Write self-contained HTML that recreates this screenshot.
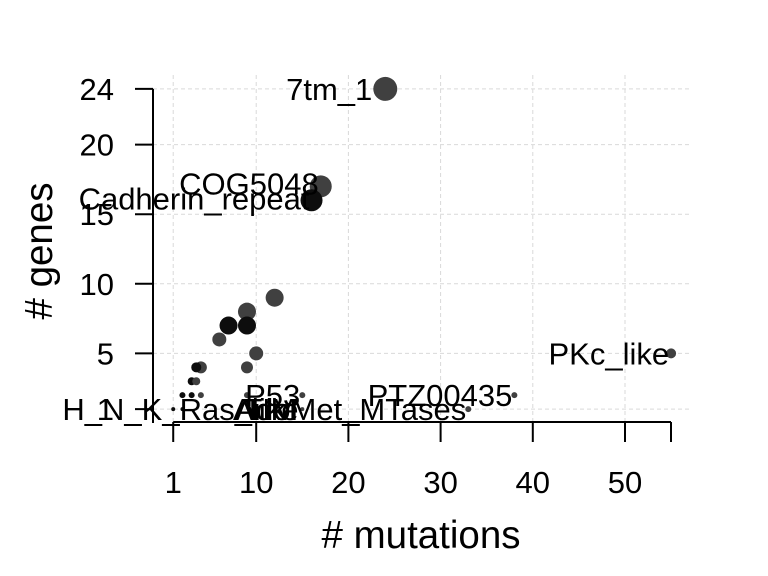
<!DOCTYPE html>
<html><head><meta charset="utf-8"><style>
html,body{margin:0;padding:0;background:#fff;}
svg{display:block;font-family:"Liberation Sans",Arial,sans-serif;}
</style></head><body>
<svg id="chart" width="768" height="576" viewBox="0 0 768 576">
<g id="grid"></g>
<g id="axes"></g>
<g id="points"></g>
<g id="labels"></g>
<text x="421" y="548" font-size="38.5" text-anchor="middle"># mutations</text>
<text transform="translate(52,251) rotate(-90)" font-size="38.5" text-anchor="middle"># genes</text>
</svg>
<script>
const xTicks = [1, 10, 20, 30, 40, 50];
const yTicks = [1, 5, 10, 15, 20, 24];
const ptX = [24, 17, 16, 55, 38, 12, 9, 7, 9, 6, 10, 9, 4, 3.5, 3, 3.5, 2, 3, 4, 9, 15, 1, 2, 33, 10, 15];
const ptY = [24, 17, 16, 5, 2, 9, 8, 7, 7, 6, 5, 4, 4, 4, 3, 3, 2, 2, 2, 2, 2, 1, 1, 1, 1, 1];
const ptR = [12, 11, 11, 5, 3, 9, 9, 9, 9, 7, 7, 6, 6, 5, 4, 4, 3, 3, 3, 3, 3, 2, 2, 3, 2, 2];
const ptDark = [0, 0, 1, 0, 0, 0, 0, 1, 1, 0, 0, 0, 0, 1, 1, 0, 1, 1, 0, 0, 0, 1, 1, 0, 0, 0];
const labText = ["7tm_1", "COG5048", "Cadherin_repeat", "PKc_like", "PTZ00435", "P53", "H_N_K_Ras_like", "AdoMet_MTases", "Ank", "TIM"];
const labX = [24, 17, 16, 55, 38, 15, 14.8, 33, 13.5, 14.6];
const labY = [24, 17, 16, 5, 2, 2, 1, 1, 1, 1];
const labDy = [0, -3, -2, 0, 0, 0, 0, 0, 0, 0];

function sx(v){ return 164 + 9.22 * v; }
function sy(v){ return 423 - 13.92 * v; }
const NS = "http://www.w3.org/2000/svg";
function mk(tag, attrs, parent){
  const e = document.createElementNS(NS, tag);
  for (const k in attrs) e.setAttribute(k, attrs[k]);
  parent.appendChild(e);
  return e;
}
const grid = document.getElementById('grid');
const axes = document.getElementById('axes');
const pts = document.getElementById('points');
const labs = document.getElementById('labels');

xTicks.forEach(t => {
  const g = mk('line', {x1: sx(t), x2: sx(t), y1: 75, y2: 422, stroke: '#d9d9d9', 'stroke-width': 1, 'stroke-dasharray': '4,3'}, grid);
  
  
  const tk = mk('line', {x1: sx(t), x2: sx(t), y1: 422, y2: 442, stroke: '#000', 'stroke-width': 2}, axes);
  
  
  const lb = mk('text', {x: sx(t), y: 493, 'font-size': 31, 'text-anchor': 'middle'}, axes);
  lb.textContent = t;
  
  
});
yTicks.forEach(t => {
  const g = mk('line', {x1: 153, x2: 690, y1: sy(t), y2: sy(t), stroke: '#d9d9d9', 'stroke-width': 1, 'stroke-dasharray': '4,3'}, grid);
  
  
  const tk = mk('line', {x1: 135, x2: 153, y1: sy(t), y2: sy(t), stroke: '#000', 'stroke-width': 2}, axes);
  
  
  const lb = mk('text', {x: 114, y: sy(t) + 11, 'font-size': 31, 'text-anchor': 'end'}, axes);
  lb.textContent = t;
  
  
});
const ya = mk('line', {x1: 153, x2: 153, y1: sy(24), y2: 423, stroke: '#000', 'stroke-width': 2}, axes);


const xa = mk('line', {x1: sx(1), x2: 671, y1: 422, y2: 422, stroke: '#000', 'stroke-width': 2}, axes);


const xe = mk('line', {x1: 671, x2: 671, y1: 422, y2: 442, stroke: '#000', 'stroke-width': 2}, axes);



ptX.forEach((v, i) => {
  const c = mk('circle', {cx: sx(v), cy: sy(ptY[i]), r: ptR[i], fill: ptDark[i] ? '#0d0d0d' : '#404040'}, pts);
  
  
});
labText.forEach((s, i) => {
  const off = i === 0 ? 13 : 2;
  const t = mk('text', {x: sx(labX[i]) - off, y: sy(labY[i]) + 11 + labDy[i], 'font-size': 31, 'text-anchor': 'end'}, labs);
  t.textContent = s;
  
  
});
</script>
</body></html>
